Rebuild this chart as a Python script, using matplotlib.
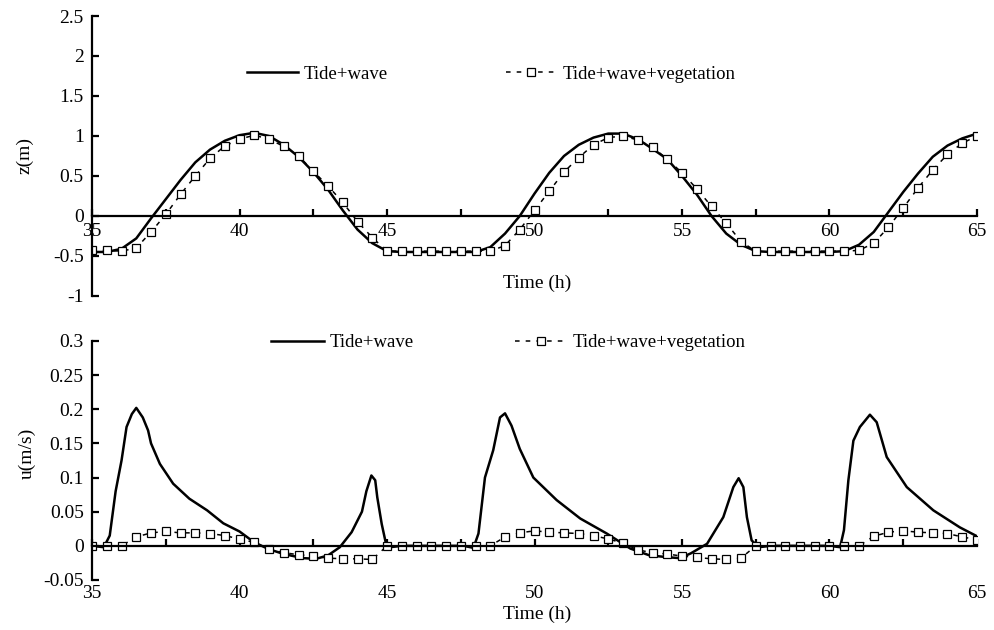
import matplotlib.pyplot as plt

plt.rcParams['font.family'] = ['Liberation Serif', 'DejaVu Serif']
plt.rcParams['axes.unicode_minus'] = False

# water level, tide+wave (solid line)
t_z = [35.0, 35.5, 36.0, 36.5, 37.0, 37.5, 38.0, 38.5, 39.0, 39.5, 40.0, 40.5,
       41.0, 41.5, 42.0, 42.5, 43.0, 43.5, 44.0, 44.5, 45.0, 45.5, 46.0, 47.0,
       48.0, 48.5, 49.0, 49.5, 50.0, 50.5, 51.0, 51.5, 52.0, 52.5, 53.0, 53.5,
       54.0, 54.5, 55.0, 55.5, 56.0, 56.5, 57.0, 57.5, 58.0, 59.0, 60.0, 60.5,
       61.0, 61.5, 62.0, 62.5, 63.0, 63.5, 64.0, 64.5, 65.0]
z_wave = [-0.45, -0.45, -0.41, -0.28, -0.03, 0.21, 0.45, 0.67, 0.83, 0.94, 1.01, 1.04,
          1.0, 0.89, 0.74, 0.55, 0.33, 0.07, -0.17, -0.34, -0.44, -0.45, -0.45, -0.45,
          -0.45, -0.39, -0.22, 0.0, 0.28, 0.54, 0.75, 0.89, 0.98, 1.03, 1.03, 0.96,
          0.84, 0.71, 0.5, 0.27, 0.0, -0.22, -0.36, -0.44, -0.45, -0.45, -0.45, -0.44,
          -0.36, -0.2, 0.05, 0.3, 0.53, 0.74, 0.88, 0.97, 1.03]

# tide+wave+vegetation, sampled every half hour (markers)
t_veg = [35.0, 35.5, 36.0, 36.5, 37.0, 37.5, 38.0, 38.5, 39.0, 39.5,
         40.0, 40.5, 41.0, 41.5, 42.0, 42.5, 43.0, 43.5, 44.0, 44.5,
         45.0, 45.5, 46.0, 46.5, 47.0, 47.5, 48.0, 48.5, 49.0, 49.5,
         50.0, 50.5, 51.0, 51.5, 52.0, 52.5, 53.0, 53.5, 54.0, 54.5,
         55.0, 55.5, 56.0, 56.5, 57.0, 57.5, 58.0, 58.5, 59.0, 59.5,
         60.0, 60.5, 61.0, 61.5, 62.0, 62.5, 63.0, 63.5, 64.0, 64.5, 65.0]
z_veg = [-0.43, -0.43, -0.44, -0.40, -0.20, 0.02, 0.27, 0.50, 0.72, 0.875,
         0.96, 1.01, 0.96, 0.87, 0.75, 0.56, 0.375, 0.17, -0.07, -0.27,
         -0.44, -0.44, -0.44, -0.44, -0.44, -0.44, -0.44, -0.44, -0.37, -0.17,
         0.07, 0.31, 0.55, 0.73, 0.89, 0.98, 1.0, 0.95, 0.86, 0.71,
         0.54, 0.34, 0.12, -0.09, -0.32, -0.44, -0.44, -0.44, -0.44, -0.44,
         -0.44, -0.44, -0.43, -0.34, -0.14, 0.10, 0.35, 0.575, 0.77, 0.91, 1.0]
u_veg = [0.0, 0.0, 0.0, 0.013, 0.019, 0.021, 0.019, 0.019, 0.018, 0.015,
         0.010, 0.005, -0.005, -0.010, -0.013, -0.015, -0.018, -0.019, -0.019, -0.020,
         0.0, 0.0, 0.0, 0.0, 0.0, 0.0, 0.0, 0.0, 0.013, 0.019,
         0.022, 0.020, 0.019, 0.018, 0.015, 0.010, 0.004, -0.006, -0.010, -0.012,
         -0.015, -0.017, -0.019, -0.020, -0.018, 0.0, 0.0, 0.0, 0.0, 0.0,
         0.0, 0.0, 0.0, 0.014, 0.020, 0.022, 0.020, 0.019, 0.018, 0.013, 0.009]

# velocity, tide+wave (solid line)
t_u = [35.0, 35.4, 35.6, 35.8, 36.0, 36.17, 36.35, 36.5, 36.72, 36.9, 37.0, 37.3,
       37.75, 38.3, 38.9, 39.45, 40.0, 40.5, 41.0, 41.5, 42.15, 42.6, 43.0, 43.4,
       43.8, 44.15, 44.3, 44.47, 44.6, 44.67, 44.82, 44.95, 45.1, 45.5, 47.6, 47.93,
       48.1, 48.32, 48.6, 48.83, 49.0, 49.22, 49.5, 49.96, 50.75, 51.55, 52.45, 53.25,
       53.9, 54.6, 54.93, 55.3, 55.85, 56.4, 56.74, 56.92, 57.08, 57.2, 57.36, 57.6,
       58.0, 60.0, 60.36, 60.49, 60.64, 60.81, 61.03, 61.37, 61.6, 61.94, 62.62, 63.52,
       64.42, 65.0]
u_wave = [0.0, -0.002, 0.015, 0.08, 0.125, 0.174, 0.193, 0.202, 0.188, 0.169, 0.15, 0.12,
          0.091, 0.069, 0.052, 0.033, 0.021, 0.005, -0.005, -0.012, -0.018, -0.019, -0.014, -0.002,
          0.02, 0.05, 0.08, 0.103, 0.096, 0.071, 0.032, 0.006, -0.002, 0.0, 0.0, -0.003,
          0.018, 0.10, 0.14, 0.188, 0.194, 0.176, 0.142, 0.10, 0.067, 0.04, 0.018, -0.004,
          -0.014, -0.017, -0.018, -0.011, 0.003, 0.042, 0.086, 0.099, 0.086, 0.042, 0.008, -0.002,
          0.0, 0.0, -0.002, 0.023, 0.096, 0.154, 0.174, 0.192, 0.181, 0.13, 0.086, 0.052,
          0.027, 0.014]

x_ticks = [35, 37.5, 40, 42.5, 45, 47.5, 50, 52.5, 55, 57.5, 60, 62.5, 65]
x_labels = ['35', '', '40', '', '45', '', '50', '', '55', '', '60', '', '65']
z_ticks = [-1, -0.5, 0, 0.5, 1, 1.5, 2, 2.5]
u_ticks = [-0.05, 0, 0.05, 0.1, 0.15, 0.2, 0.25, 0.3]


def style(ax, yticks, xpad):
    ax.set_xlim(35, 65)
    ax.set_ylim(yticks[0], yticks[-1])
    ax.spines['top'].set_visible(False)
    ax.spines['right'].set_visible(False)
    ax.spines['bottom'].set_position(('data', 0))
    ax.spines['left'].set_linewidth(1.6)
    ax.spines['bottom'].set_linewidth(1.6)
    ax.set_xticks(x_ticks)
    ax.set_xticklabels(x_labels)
    ax.set_yticks(yticks)
    ax.set_yticklabels(['%g' % v for v in yticks])
    ax.tick_params(direction='in', length=5, width=1.6, labelsize=14)
    ax.tick_params(axis='x', pad=xpad)
    ax.tick_params(axis='y', pad=6)


fig = plt.figure(figsize=(9.95, 6.3), dpi=100)
ax1 = fig.add_axes([0.0925, 0.5302, 0.8894, 0.4444])
ax2 = fig.add_axes([0.0925, 0.0794, 0.8894, 0.3794])

ax1.plot(t_z, z_wave, color='black', lw=1.8, label='Tide+wave')
ax1.plot(t_veg, z_veg, color='black', lw=1.1, dashes=(3, 4), marker='s', ms=5.5,
         mfc='white', mec='black', mew=0.9, label='Tide+wave+vegetation')
style(ax1, z_ticks, 5)
ax1.set_ylabel('z(m)', fontsize=14)
ax1.yaxis.set_label_coords(-0.066, 0.5)
ax1.set_xlabel('Time (h)', fontsize=14)
ax1.xaxis.set_label_coords(0.503, 0.075)
ax1.legend(ncol=2, loc='center left', bbox_to_anchor=(0.165, 0.793), frameon=False,
           fontsize=13.5, borderpad=0, handlelength=2.7, handletextpad=0.3,
           columnspacing=6.3, numpoints=1)

ax2.plot(t_u, u_wave, color='black', lw=1.8, label='Tide+wave')
ax2.plot(t_veg, u_veg, color='black', lw=1.1, dashes=(3, 4), marker='s', ms=5.5,
         mfc='white', mec='black', mew=0.9, label='Tide+wave+vegetation')
style(ax2, u_ticks, 28)
ax2.set_ylabel('u(m/s)', fontsize=14)
ax2.yaxis.set_label_coords(-0.064, 0.53)
ax2.set_xlabel('Time (h)', fontsize=14)
ax2.xaxis.set_label_coords(0.503, -0.108)
ax2.legend(ncol=2, loc='center left', bbox_to_anchor=(0.192, 0.992), frameon=False,
           fontsize=13.5, borderpad=0, handlelength=2.8, handletextpad=0.3,
           columnspacing=5.4, numpoints=1)

fig.savefig('out.png', dpi=100)
